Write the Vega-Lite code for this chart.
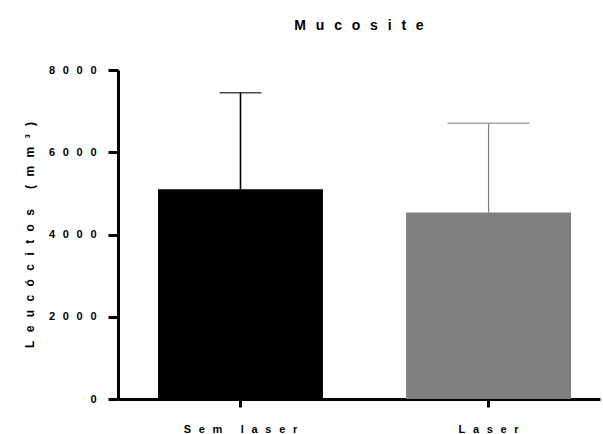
{
  "$schema": "https://vega.github.io/schema/vega-lite/v6.json",
  "autosize": "none",
  "padding": {"left": 118, "top": 70, "right": 3, "bottom": 35},
  "width": 482,
  "height": 329,
  "background": "white",
  "config": {
    "view": {"stroke": null},
    "font": "Liberation Sans"
  },
  "title": {
    "text": "M\u2002\u2009u\u2002\u2009c\u2002\u2009o\u2002\u2009s\u2002\u2009i\u2002\u2009t\u2002\u2009e",
    "font": "Liberation Sans",
    "fontSize": 14,
    "fontWeight": "bold",
    "color": "black",
    "frame": "group",
    "anchor": "middle",
    "baseline": "alphabetic",
    "offset": 20
  },
  "data": {
    "values": [
      {"grupo": "Sem laser", "media": 5100, "limite": 7445},
      {"grupo": "Laser", "media": 4535, "limite": 6705}
    ]
  },
  "encoding": {
    "x": {
      "field": "grupo",
      "type": "nominal",
      "sort": ["Sem laser", "Laser"],
      "scale": {"paddingInner": 0.335, "paddingOuter": 0.139, "align": 0.58},
      "axis": {
        "title": null,
        "labelAngle": 0,
        "domainWidth": 3,
        "domainColor": "black",
        "tickWidth": 3,
        "tickColor": "black",
        "tickSize": 8,
        "labelFont": "Liberation Sans",
        "labelFontWeight": "bold",
        "labelFontSize": 11,
        "labelColor": "black",
        "labelPadding": 16,
        "labelExpr": "join(split(replace(datum.label, ' ', '\u00a0'), ''), '\u2002\u2009')"
      }
    }
  },
  "layer": [
    {
      "mark": {"type": "bar"},
      "encoding": {
        "y": {
          "field": "media",
          "type": "quantitative",
          "scale": {"domain": [0, 8000], "nice": false},
          "axis": {
            "values": [0, 2000, 4000, 6000, 8000],
            "format": "d",
            "grid": false,
            "domainWidth": 3,
            "domainColor": "black",
            "tickWidth": 3,
            "tickColor": "black",
            "tickSize": 10,
            "labelFont": "Liberation Sans",
            "labelFontWeight": "bold",
            "labelFontSize": 11,
            "labelColor": "black",
            "labelPadding": 12,
            "labelExpr": "join(split(datum.label, ''), '\u2002\u2009')",
            "title": "L\u2002\u2009e\u2002\u2009u\u2002\u2009c\u2002\u2009\u00f3\u2002\u2009c\u2002\u2009i\u2002\u2009t\u2002\u2009o\u2002\u2009s\u2002\u2009\u00a0\u2002\u2009(\u2002\u2009m\u2002\u2009m\u2002\u2009\u00b3\u2002\u2009)",
            "titleFont": "Liberation Sans",
            "titleFontWeight": "bold",
            "titleFontSize": 12,
            "titleColor": "black",
            "titlePadding": 12
          }
        },
        "color": {
          "field": "grupo",
          "type": "nominal",
          "scale": {"domain": ["Sem laser", "Laser"], "range": ["#000000", "#808080"]},
          "legend": null
        }
      }
    },
    {
      "mark": {"type": "rule"},
      "encoding": {
        "y": {"field": "media", "type": "quantitative"},
        "y2": {"field": "limite"},
        "color": {"field": "grupo", "type": "nominal", "legend": null},
        "strokeWidth": {"condition": {"test": "datum.grupo === 'Laser'", "value": 1.2}, "value": 1.6}
      }
    },
    {
      "mark": {"type": "tick", "orient": "horizontal", "thickness": 1.6},
      "encoding": {
        "y": {"field": "limite", "type": "quantitative"},
        "color": {"field": "grupo", "type": "nominal", "legend": null},
        "size": {"condition": {"test": "datum.grupo === 'Laser'", "value": 82}, "value": 42}
      }
    }
  ]
}
